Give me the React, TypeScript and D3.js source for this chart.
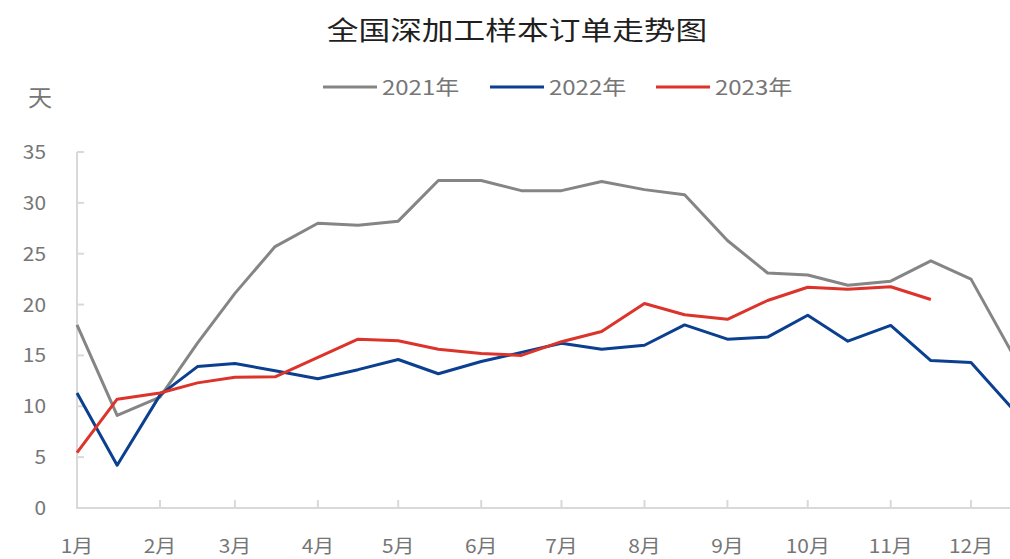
import React from "react";
import * as d3 from "d3";

const dates = [
  "2021-01-01","2021-01-16","2021-02-01","2021-02-15","2021-03-01","2021-03-16",
  "2021-04-01","2021-04-16","2021-05-01","2021-05-16","2021-06-01","2021-06-16",
  "2021-07-01","2021-07-16","2021-08-01","2021-08-16","2021-09-01","2021-09-16",
  "2021-10-01","2021-10-16","2021-11-01","2021-11-16","2021-12-01","2021-12-16",
];
const s2021 = [18.0, 9.1, 10.9, 16.2, 21.1, 25.7, 28.0, 27.8, 28.2, 32.2, 32.2, 31.2,
  31.2, 32.1, 31.3, 30.8, 26.3, 23.1, 22.9, 21.9, 22.3, 24.3, 22.5, 15.4];
const s2022 = [11.3, 4.2, 11.1, 13.9, 14.2, 13.5, 12.7, 13.6, 14.6, 13.2, 14.4, 15.3,
  16.2, 15.6, 16.0, 18.0, 16.6, 16.8, 18.95, 16.4, 17.95, 14.5, 14.3, 9.9];
const s2023 = [5.45, 10.7, 11.3, 12.3, 12.85, 12.9, 14.8, 16.6, 16.45, 15.6, 15.2, 15.0,
  16.35, 17.35, 20.1, 19.0, 18.55, 20.4, 21.7, 21.5, 21.75, 20.5];
const seriesNames = ["2021年", "2022年", "2023年"];
const seriesColors = ["#858585", "#0b3f8f", "#dc332b"];
const yTicks = [0, 5, 10, 15, 20, 25, 30, 35];
const monthLabels = ["1月","2月","3月","4月","5月","6月","7月","8月","9月","10月","11月","12月"];

const W = 1010, H = 559;
const FONT = "'Noto Sans CJK SC', 'Noto Sans', sans-serif";

export default function App() {
  const parse = d3.timeParse("%Y-%m-%d");
  const xd = dates.map((d) => parse(d) as Date);
  const x = d3.scaleTime()
    .domain([new Date(2021, 0, 1), new Date(2021, 11, 1)])
    .range([77, 971]);
  const y = d3.scaleLinear().domain([0, 35]).range([508, 152]);
  const line = d3.line<[Date, number]>().x((d) => x(d[0])).y((d) => y(d[1]));
  const all = [s2021, s2022, s2023];
  const monthTicks = d3.range(12).map((m) => new Date(2021, m, 1));
  const legendX = [323, 490, 656];

  return (
    <svg width={W} height={H} style={{ position: "absolute", left: 0, top: 0, background: "#fff" }}
      fontFamily={FONT}>
      <defs>
        <clipPath id="plot"><rect x={0} y={0} width={W} height={H} /></clipPath>
      </defs>
      <text transform={`translate(517,40) scale(1.22,1)`} textAnchor="middle" fontSize={26} fill="#1f1f1f">
        全国深加工样本订单走势图
      </text>
      {seriesNames.map((n, i) => (
        <g key={n}>
          <line x1={legendX[i]} x2={legendX[i] + 54} y1={87} y2={87} stroke={seriesColors[i]} strokeWidth={3} />
          <text transform={`translate(${legendX[i] + 59},95) scale(1.2,1)`} fontSize={20} fill="#767676">{n}</text>
        </g>
      ))}
      <text transform={`translate(40,106) scale(1.05,1)`} textAnchor="middle" fontSize={23} fill="#767676">天</text>
      <line x1={77} x2={77} y1={152} y2={508} stroke="#d9d9d9" strokeWidth={2} />
      <line x1={76} x2={W} y1={508} y2={508} stroke="#d9d9d9" strokeWidth={2} />
      {yTicks.map((t) => (
        <g key={t}>
          <line x1={77} x2={84} y1={y(t)} y2={y(t)} stroke="#d9d9d9" strokeWidth={2} />
          <text transform={`translate(46,${y(t) + 7}) scale(1.1,1)`} textAnchor="end" fontSize={19} fill="#767676">{t}</text>
        </g>
      ))}
      {monthTicks.map((m, i) => (
        <g key={i}>
          <line x1={x(m)} x2={x(m)} y1={500} y2={508} stroke="#d9d9d9" strokeWidth={2} />
          <text transform={`translate(${x(m)},553) scale(1.1,1)`} textAnchor="middle" fontSize={19} fill="#767676">{monthLabels[i]}</text>
        </g>
      ))}
      <g clipPath="url(#plot)">
        {all.map((s, i) => (
          <path key={i} d={line(s.map((v, j) => [xd[j], v] as [Date, number])) || ""}
            fill="none" stroke={seriesColors[i]} strokeWidth={3} strokeLinejoin="round" />
        ))}
      </g>
    </svg>
  );
}
